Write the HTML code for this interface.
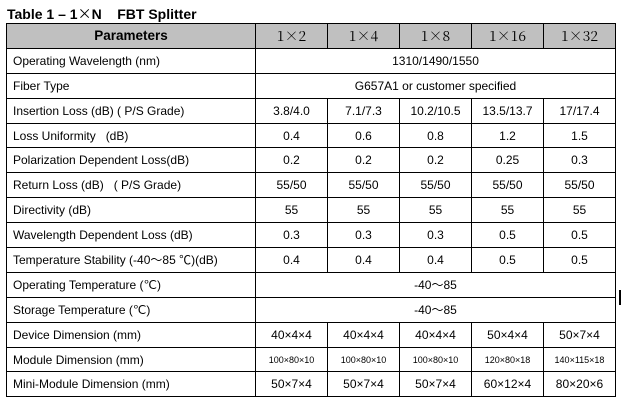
<!DOCTYPE html>
<html><head><meta charset="utf-8"><style>
body{margin:0;background:#fff;width:627px;height:408px;position:relative;overflow:hidden;font-family:"Liberation Sans",Arial,sans-serif;}
.title{position:absolute;left:7px;top:4px;font-weight:bold;font-size:14px;color:#000;}
table{position:absolute;left:6px;top:23px;border-collapse:collapse;table-layout:fixed;}
td{border:1px solid #000;height:23.9px;padding:0;font-size:12px;text-align:center;color:#000;white-space:nowrap;}
td.l{text-align:left;padding-left:6px;}
tr.h td{background:#c0c0c0;}
tr.h td.p{font-weight:bold;font-size:13.5px;}
tr.h td.n{font-family:"Noto Serif CJK SC","Liberation Serif",serif;font-size:14px;}
.s{font-size:9px;}
.cur{position:absolute;left:619px;top:290px;width:2px;height:15px;background:#000;}
</style></head><body>
<div class="title">Table 1 – 1<span style="font-family:'Noto Sans CJK SC',sans-serif;font-weight:normal">×</span>N&nbsp;&nbsp;&nbsp; FBT Splitter</div>
<table>
<colgroup><col style="width:249px"><col style="width:72px"><col style="width:72px"><col style="width:72px"><col style="width:72px"><col style="width:72px"></colgroup>
<tr class="h"><td class="p">Parameters</td><td class="n">1×2</td><td class="n">1×4</td><td class="n">1×8</td><td class="n">1×16</td><td class="n">1×32</td></tr>
<tr><td class="l">Operating Wavelength (nm)</td><td colspan="5">1310/1490/1550</td></tr>
<tr><td class="l">Fiber Type</td><td colspan="5">G657A1 or customer specified</td></tr>
<tr><td class="l">Insertion Loss (dB) ( P/S Grade)</td><td>3.8/4.0</td><td>7.1/7.3</td><td>10.2/10.5</td><td>13.5/13.7</td><td>17/17.4</td></tr>
<tr><td class="l">Loss Uniformity&nbsp;&nbsp; (dB)</td><td>0.4</td><td>0.6</td><td>0.8</td><td>1.2</td><td>1.5</td></tr>
<tr><td class="l">Polarization Dependent Loss(dB)</td><td>0.2</td><td>0.2</td><td>0.2</td><td>0.25</td><td>0.3</td></tr>
<tr><td class="l">Return Loss (dB)&nbsp;&nbsp; ( P/S Grade)</td><td>55/50</td><td>55/50</td><td>55/50</td><td>55/50</td><td>55/50</td></tr>
<tr><td class="l">Directivity (dB)</td><td>55</td><td>55</td><td>55</td><td>55</td><td>55</td></tr>
<tr><td class="l">Wavelength Dependent Loss (dB)</td><td>0.3</td><td>0.3</td><td>0.3</td><td>0.5</td><td>0.5</td></tr>
<tr><td class="l">Temperature Stability (-40～85 ℃)(dB)</td><td>0.4</td><td>0.4</td><td>0.4</td><td>0.5</td><td>0.5</td></tr>
<tr><td class="l">Operating Temperature (℃)</td><td colspan="5">-40～85</td></tr>
<tr><td class="l">Storage Temperature (℃)</td><td colspan="5">-40～85</td></tr>
<tr><td class="l">Device Dimension (mm)</td><td>40×4×4</td><td>40×4×4</td><td>40×4×4</td><td>50×4×4</td><td>50×7×4</td></tr>
<tr><td class="l">Module Dimension (mm)</td><td class="s">100×80×10</td><td class="s">100×80×10</td><td class="s">100×80×10</td><td class="s">120×80×18</td><td class="s">140×115×18</td></tr>
<tr><td class="l">Mini-Module Dimension (mm)</td><td>50×7×4</td><td>50×7×4</td><td>50×7×4</td><td>60×12×4</td><td>80×20×6</td></tr>
</table>
<div class="cur"></div>
</body></html>
